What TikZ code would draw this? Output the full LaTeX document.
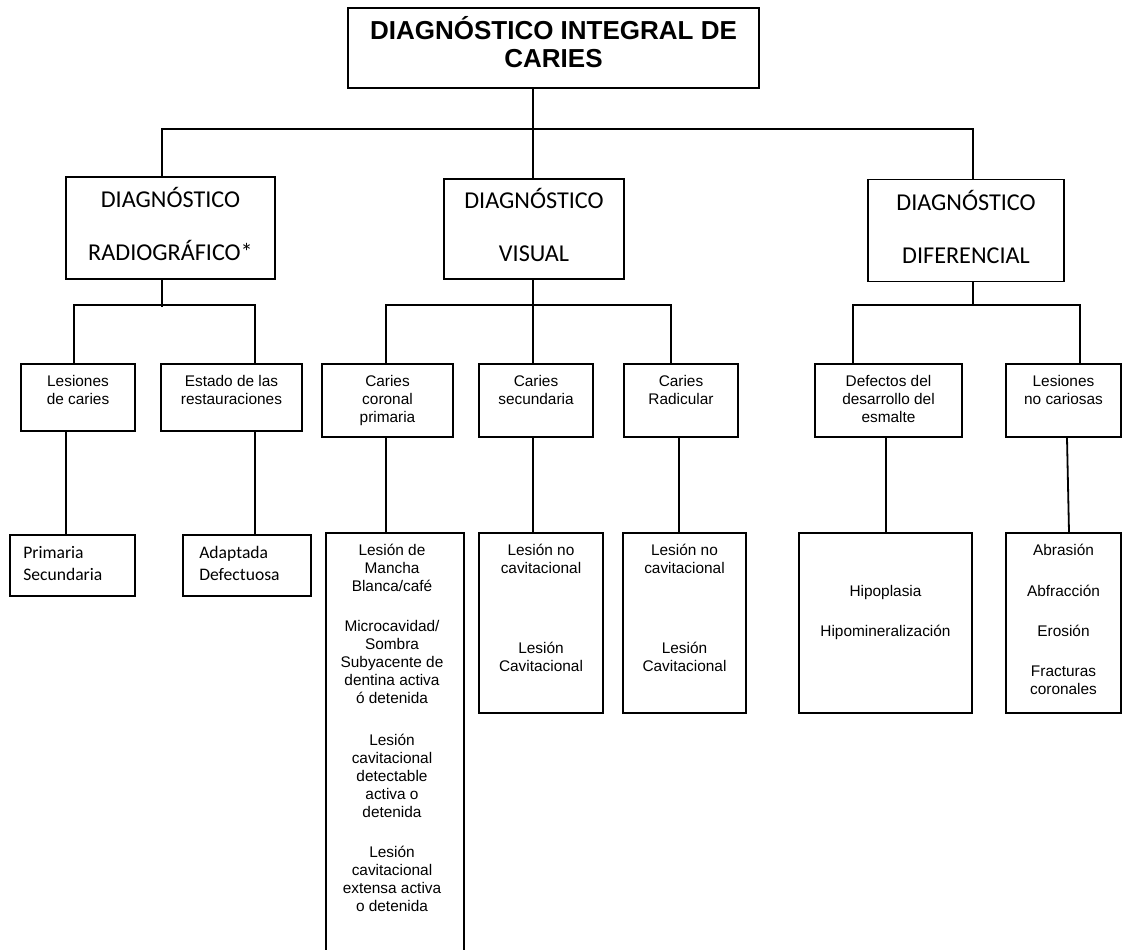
\documentclass[tikz,border=0pt]{standalone}
\usepackage{fontspec}
\setmainfont{Liberation Sans}
\newfontfamily\calibri{Carlito}

\begin{document}
\begin{tikzpicture}[x=1bp,y=-1bp,% 1 unidad = 1 px de la imagen, y hacia abajo
	caja/.style 2 args={draw,line width=1.8bp,inner sep=0pt,minimum width=#1bp,minimum height=#2bp},
	titulo/.style={font=\fontsize{26bp}{28bp}\selectfont\bfseries,align=center,inner sep=0pt,anchor=north},
	nivel/.style={font=\calibri\fontsize{24.2bp}{53bp}\selectfont,align=center,inner sep=0pt,anchor=north},
	rama/.style={font=\fontsize{15.4bp}{18bp}\selectfont,align=center,inner sep=0pt,anchor=north},
	hoja/.style={font=\calibri\fontsize{17.6bp}{22bp}\selectfont,align=left,inner sep=0pt,anchor=north west},
	linea/.style={line width=1.8bp}]
	\useasboundingbox (0,0) rectangle (1123,950);
	\clip (0,0) rectangle (1123,950);

	\node[caja={411}{80}] (raiz) at (553.5,48) {};
	\node[caja={209}{102}] (rad) at (170.5,228) {};
	\node[caja={180}{100}] (vis) at (534,229) {};
	\node[caja={196}{102}] (dif) at (966,230.5) {};
	\node[caja={114}{67}] (lc) at (78,397.5) {};
	\node[caja={141}{67}] (er) at (231.5,397.5) {};
	\node[caja={131}{73}] (ccp) at (387.5,400.5) {};
	\node[caja={114}{73}] (cs) at (536,400.5) {};
	\node[caja={114}{73}] (cr) at (681,400.5) {};
	\node[caja={147}{73}] (dd) at (888.5,400.5) {};
	\node[caja={115}{73}] (lnc) at (1063.5,400.5) {};
	\node[caja={125}{61}] (hp) at (72.5,565.5) {};
	\node[caja={128}{61}] (ha) at (247,565.5) {};
	\node[caja={138}{447}] (hccp) at (395,756.5) {};% sigue por debajo del borde
	\node[caja={124}{180}] (hcs) at (541,623) {};
	\node[caja={123}{180}] (hcr) at (684.5,623) {};
	\node[caja={173}{180}] (hdd) at (885.5,623) {};
	\node[caja={115}{180}] (hlnc) at (1063.5,623) {};

	\draw[linea] ([xshift=-20.5bp]raiz.south) -- ([xshift=-1bp]vis.north);
	\draw[linea] ([xshift=-8.5bp]rad.north) -- ++(0,-47) -| ([xshift=7bp]dif.north);
	\draw[linea] ([xshift=-8.5bp]rad.south) -- ++(0,27);
	\draw[linea] ([xshift=-4bp]lc.north) -- ++(0,-58) -| ([xshift=23.5bp]er.north);
	\draw[linea] ([xshift=-1bp]vis.south) -- ([xshift=-3bp]cs.north);
	\draw[linea] ([xshift=-1.5bp]ccp.north) -- ++(0,-58) -| ([xshift=-10bp]cr.north);
	\draw[linea] ([xshift=7bp]dif.south) -- ++(0,24);
	\draw[linea] ([xshift=-35.5bp]dd.north) -- ++(0,-58) -| ([xshift=16.5bp]lnc.north);
	\foreach \a/\b/\da/\db in {lc/hp/-12bp/-6.5bp,er/ha/23.5bp/8bp,ccp/hccp/-1.5bp/-9bp,cs/hcs/-3bp/-8bp,cr/hcr/-2bp/-5.5bp,dd/hdd/-2.5bp/0.5bp,lnc/hlnc/3.5bp/5.5bp}{
		\draw[linea] ([xshift=\da]\a.south) -- ([xshift=\db]\b.north);}

	\node[titulo] (t0) at ([yshift=-9bp]raiz.north) {DIAGNÓSTICO INTEGRAL DE\\CARIES};
	\node[nivel] (t1) at ([yshift=-11bp]rad.north) {DIAGNÓSTICO\\RADIOGRÁFICO*};
	\node[nivel] (t2) at ([yshift=-10bp]vis.north) {DIAGNÓSTICO\\VISUAL};
	\node[nivel] (t3) at ([yshift=-11bp]dif.north) {DIAGNÓSTICO\\DIFERENCIAL};
	\node[rama] (t4) at ([yshift=-12bp]lc.north) {Lesiones\\de caries};
	\node[rama] (t5) at ([yshift=-12bp]er.north) {Estado de las\\restauraciones};
	\node[rama] (t6) at ([yshift=-12bp]ccp.north) {Caries\\coronal\\primaria};
	\node[rama] (t7) at ([yshift=-12bp]cs.north) {Caries\\secundaria};
	\node[rama] (t8) at ([yshift=-12bp]cr.north) {Caries\\Radicular};
	\node[rama] (t9) at ([yshift=-12bp]dd.north) {Defectos del\\desarrollo del\\esmalte};
	\node[rama] (t10) at ([yshift=-12bp]lnc.north) {Lesiones\\no cariosas};
	\node[hoja] (t11) at ([xshift=14bp,yshift=-12bp]hp.north west) {Primaria\\Secundaria};
	\node[hoja] (t12) at ([xshift=17bp,yshift=-12bp]ha.north west) {Adaptada\\Defectuosa};
	\node[rama] (t13) at ([xshift=-3bp,yshift=-11.5bp]hccp.north) {Lesión de\\Mancha\\Blanca/café\\[22bp]Microcavidad/\\Sombra\\Subyacente de\\dentina activa\\ó detenida\\[24bp]Lesión\\cavitacional\\detectable\\activa o\\detenida\\[22bp]Lesión\\cavitacional\\extensa activa\\o detenida};
	\node[rama] (t14) at ([yshift=-11.5bp]hcs.north) {Lesión no\\cavitacional\\[62bp]Lesión\\Cavitacional};
	\node[rama] (t15) at ([yshift=-11.5bp]hcr.north) {Lesión no\\cavitacional\\[62bp]Lesión\\Cavitacional};
	\node[rama] (t16) at ([yshift=-53bp]hdd.north) {Hipoplasia\\[22bp]Hipomineralización};
	\node[rama] (t17) at ([yshift=-11.5bp]hlnc.north) {Abrasión\\[23bp]Abfracción\\[22bp]Erosión\\[22bp]Fracturas\\coronales};
\end{tikzpicture}
\end{document}
